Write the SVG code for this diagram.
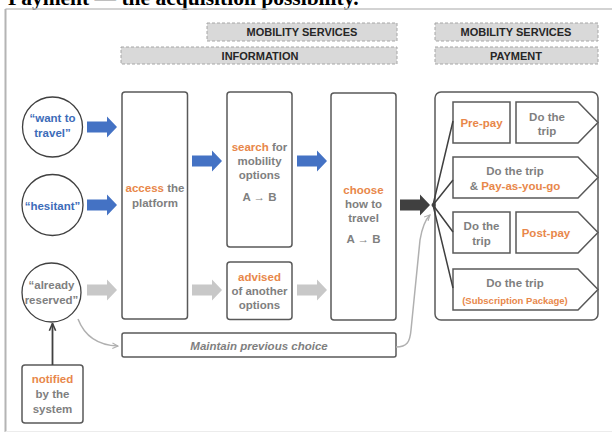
<svg xmlns="http://www.w3.org/2000/svg" xmlns:xlink="http://www.w3.org/1999/xlink" width="612" height="434" viewBox="0 0 612 434">
<style>
  text { font-family: "Liberation Sans", Arial, sans-serif; font-weight: bold; text-anchor: middle; }
  .t { font-size: 11.5px; fill: #7f7f7f; }
  .b { fill: #3d6cb9; }
  .o { fill: #e8874a; }
  .g { fill: #7f7f7f; }
  .hdr { font-size: 11px; fill: #262626; }
  .hbox { fill: #d9d9d9; stroke: #a6a6a6; stroke-width: 1; stroke-dasharray: 3 2; }
  .box { fill: #ffffff; stroke: #595959; stroke-width: 1.5; }
  .circ { fill: #ffffff; stroke: #404040; stroke-width: 1.3; }
  .blue { fill: #4472c4; }
  .grey { fill: #c8c8c8; }
  .dark { fill: #404040; }
  .fan { stroke: #404040; stroke-width: 1.5; fill: none; }
  .gl { stroke: #b0b0b0; stroke-width: 1.5; fill: none; }
</style>
<defs>
  <path id="blk" d="M0,-5.5 H20 V-10.5 L30,0 L20,10.5 V5.5 H0 Z"/>
  <marker id="ga" viewBox="0 0 10 10" refX="9" refY="5" markerWidth="7" markerHeight="7" orient="auto" markerUnits="userSpaceOnUse">
    <path d="M1,1 L9,5 L1,9" fill="none" stroke="#b0b0b0" stroke-width="1.6"/>
  </marker>
  <marker id="da" viewBox="0 0 10 10" refX="9" refY="5" markerWidth="9" markerHeight="9" orient="auto" markerUnits="userSpaceOnUse">
    <path d="M1,1.5 L9,5 L1,8.5" fill="none" stroke="#404040" stroke-width="1.8"/>
  </marker>
</defs>
<rect width="612" height="434" fill="#ffffff"/>

<!-- clipped title (cut at the top edge, as in the reference) -->
<text x="8" y="4.5" style="font-family:'Liberation Serif','Times New Roman',serif;font-size:21.5px;font-weight:bold;text-anchor:start;fill:#000">Payment — the acquisition possibility.</text>

<!-- frame -->
<g id="frame" fill="none">
  <line x1="5.5" y1="9" x2="612" y2="9" stroke="#c4c4c4" stroke-width="1.5"/>
  <line x1="5.5" y1="9" x2="5.5" y2="432" stroke="#b4b4b4" stroke-width="2"/>
  <line x1="5.5" y1="431.5" x2="612" y2="431.5" stroke="#ececec" stroke-width="1"/>
</g>

<!-- headers -->
<g id="hdr-ms-info">
  <rect class="hbox" x="207" y="23" width="190" height="18"/>
  <text class="hdr" x="302" y="36">MOBILITY SERVICES</text>
</g>
<g id="hdr-information">
  <rect class="hbox" x="121" y="47" width="276" height="17"/>
  <text class="hdr" x="260" y="59.5">INFORMATION</text>
</g>
<g id="hdr-ms-pay">
  <rect class="hbox" x="435" y="23" width="163" height="18"/>
  <text class="hdr" x="516" y="36">MOBILITY SERVICES</text>
</g>
<g id="hdr-payment">
  <rect class="hbox" x="435" y="47" width="163" height="17"/>
  <text class="hdr" x="516" y="59.5">PAYMENT</text>
</g>

<!-- circles -->
<g id="want">
  <circle class="circ" cx="52.5" cy="127" r="30"/>
  <text class="t b" x="52.5" y="122">“want to</text>
  <text class="t b" x="52.5" y="137">travel”</text>
</g>
<g id="hesitant">
  <circle class="circ" cx="52.5" cy="205" r="30.5"/>
  <text class="t b" x="52.5" y="209.5">“hesitant”</text>
</g>
<g id="reserved">
  <circle class="circ" cx="51.5" cy="292.5" r="29.5"/>
  <text class="t g" x="51.5" y="289">“already</text>
  <text class="t g" x="51.5" y="304">reserved”</text>
</g>
<g id="notified">
  <rect class="box" x="22" y="365" width="61" height="58" rx="3"/>
  <text class="t o" x="52.5" y="383">notified</text>
  <text class="t g" x="52.5" y="398">by the</text>
  <text class="t g" x="52.5" y="412.5">system</text>
</g>

<!-- process boxes -->
<g id="access">
  <rect class="box" x="122" y="92" width="65.5" height="227" rx="3"/>
  <text class="t" x="155" y="192"><tspan class="o">access</tspan> the</text>
  <text class="t g" x="155" y="207">platform</text>
</g>
<g id="search">
  <rect class="box" x="227" y="92" width="65" height="155" rx="3"/>
  <text class="t" x="259.5" y="151"><tspan class="o">search</tspan> for</text>
  <text class="t g" x="259.5" y="165">mobility</text>
  <text class="t g" x="259.5" y="179">options</text>
  <text class="t g" x="259.5" y="200.5">A → B</text>
</g>
<g id="advised">
  <rect class="box" x="227" y="262" width="65" height="57.5" rx="3"/>
  <text class="t o" x="259.5" y="281">advised</text>
  <text class="t g" x="259.5" y="295">of another</text>
  <text class="t g" x="259.5" y="309">options</text>
</g>
<g id="choose">
  <rect class="box" x="331" y="93" width="65" height="227" rx="3"/>
  <text class="t o" x="363.5" y="194">choose</text>
  <text class="t g" x="363.5" y="208">how to</text>
  <text class="t g" x="363.5" y="222">travel</text>
  <text class="t g" x="363.5" y="243">A → B</text>
</g>
<g id="maintain">
  <rect class="box" x="122" y="333" width="274" height="24" rx="2"/>
  <text class="t g" x="259" y="350" font-style="italic">Maintain previous choice</text>
</g>

<!-- payment area -->
<g id="payment">
  <rect class="box" x="435" y="92" width="163" height="228" rx="6"/>
</g>
<g id="prepay">
  <rect class="box" x="453" y="102" width="57" height="41"/>
  <text class="t o" x="481.5" y="127">Pre-pay</text>
</g>
<g id="trip1">
  <path class="box" d="M516,102 H578 L598,122.5 L578,143 H516 Z"/>
  <text class="t g" x="547" y="121">Do the</text>
  <text class="t g" x="547" y="135">trip</text>
</g>
<g id="payg">
  <path class="box" d="M453,157 H578 L598,177.5 L578,198 H453 Z"/>
  <text class="t g" x="515" y="175">Do the trip</text>
  <text class="t g" x="515" y="190"><tspan>&amp; </tspan><tspan class="o">Pay-as-you-go</tspan></text>
</g>
<g id="trip3">
  <rect class="box" x="453" y="212" width="57" height="41"/>
  <text class="t g" x="481.5" y="230">Do the</text>
  <text class="t g" x="481.5" y="245">trip</text>
</g>
<g id="postpay">
  <path class="box" d="M516,212 H578 L598,232.5 L578,253 H516 Z"/>
  <text class="t o" x="546" y="237">Post-pay</text>
</g>
<g id="subscription">
  <path class="box" d="M453,269 H578 L598,289.5 L578,310 H453 Z"/>
  <text class="t g" x="515" y="287">Do the trip</text>
  <text class="o" x="515" y="303.5" font-size="9.5">(Subscription Package)</text>
</g>

<!-- connectors -->
<g id="connectors">
  <use href="#blk" class="blue" x="87" y="127"/>
  <use href="#blk" class="blue" x="87" y="205"/>
  <use href="#blk" class="grey" x="87" y="290"/>
  <use href="#blk" class="blue" x="192" y="161"/>
  <use href="#blk" class="grey" x="192" y="290"/>
  <use href="#blk" class="blue" x="297" y="161"/>
  <use href="#blk" class="grey" x="297" y="290"/>
  <use href="#blk" class="dark" x="400" y="205"/>
  <path class="fan" d="M433,205 L453,121 M433,205 L453,180 M433,205 L453,232 M433,205 L453,288"/>
  <circle cx="433.5" cy="205" r="2" fill="#404040"/>
  <path class="gl" d="M78,319 Q88,345 118,346" marker-end="url(#ga)"/>
  <path class="gl" d="M396,347 C407,347 410,342 411,330 L420,240 Q423,222 430,215" marker-end="url(#ga)"/>
  <line x1="52.5" y1="365" x2="52.5" y2="323.5" stroke="#404040" stroke-width="1.8" marker-end="url(#da)"/>
</g>
</svg>
